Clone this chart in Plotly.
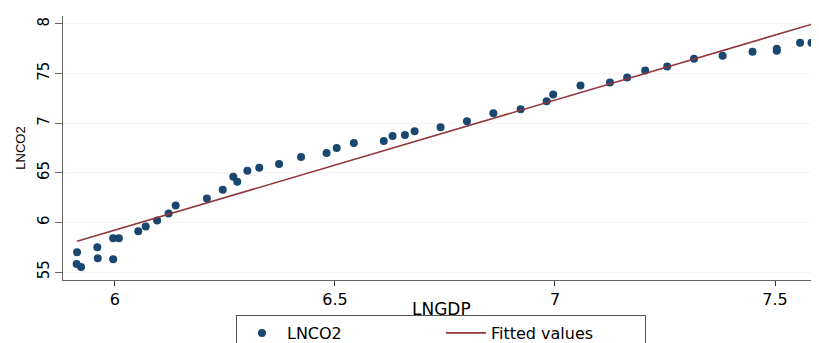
import plotly.graph_objects as go

lngdp = [5.914, 5.913, 5.923, 5.960, 5.961, 5.996, 6.009, 5.996, 6.053, 6.070,
         6.096, 6.122, 6.138, 6.209, 6.245, 6.269, 6.278, 6.301, 6.328, 6.373,
         6.423, 6.481, 6.504, 6.543, 6.611, 6.631, 6.659, 6.681, 6.740, 6.800,
         6.860, 6.922, 6.981, 6.996, 7.058, 7.125, 7.164, 7.205, 7.255, 7.316,
         7.381, 7.449, 7.504, 7.504, 7.557, 7.583]
lnco2 = [5.70, 5.58, 5.55, 5.75, 5.64, 5.84, 5.84, 5.63, 5.91, 5.96,
         6.02, 6.09, 6.17, 6.24, 6.33, 6.46, 6.41, 6.52, 6.55, 6.59,
         6.66, 6.70, 6.75, 6.80, 6.82, 6.87, 6.88, 6.92, 6.96, 7.02,
         7.10, 7.14, 7.22, 7.29, 7.38, 7.41, 7.46, 7.53, 7.57, 7.65,
         7.68, 7.72, 7.73, 7.75, 7.81, 7.81]

# Fitted values line (endpoints)
fit_x = [5.914, 7.586]
fit_y = [5.81, 8.00]

x_tickvals = [6, 6.5, 7, 7.5]
x_ticktext = ["6", "6.5", "7", "7.5"]
y_tickvals = [5.5, 6, 6.5, 7, 7.5, 8]
y_ticktext = ["55", "6", "65", "7", "75", "8"]

fig = go.Figure()
fig.add_trace(go.Scatter(
    x=lngdp, y=lnco2, mode="markers", name="LNCO2",
    marker=dict(color="#1a476f", size=8, line=dict(width=0)),
))
fig.add_trace(go.Scatter(
    x=fit_x, y=fit_y, mode="lines", name="Fitted values",
    line=dict(color="#90353b", width=1.6),
))

wide = "DejaVu Sans, Verdana, sans-serif"
narrow = "Liberation Sans, Arial, sans-serif"
fig.update_layout(
    width=811, height=335,
    margin=dict(l=55, r=0, t=8, b=63, autoexpand=False),
    paper_bgcolor="white", plot_bgcolor="white",
    font=dict(family=wide, color="#000000"),
    showlegend=True,
    legend=dict(
        orientation="h", x=0.2288, xanchor="left", y=-0.1326, yanchor="top",
        bordercolor="#555555", borderwidth=1, bgcolor="white",
        font=dict(size=16, family=wide, color="#000000"),
        itemwidth=40, entrywidth=149, entrywidthmode="pixels",
    ),
    xaxis=dict(
        range=[5.882, 7.6], tickvals=x_tickvals, ticktext=x_ticktext,
        showline=True, linecolor="#666666", linewidth=1.2,
        ticks="outside", ticklen=5, tickcolor="#333333",
        showgrid=False, zeroline=False, automargin=False,
        ticklabelstandoff=0,
        tickfont=dict(size=16, family=wide),
    ),
    yaxis=dict(
        range=[5.42, 8.08], tickvals=y_tickvals, ticktext=y_ticktext,
        showline=True, linecolor="#666666", linewidth=1.2,
        ticks="outside", ticklen=7, tickcolor="#666666",
        showgrid=True, gridcolor="#f4f4f4", gridwidth=1, zeroline=False,
        automargin=False,
        tickangle=-90, tickfont=dict(size=15, family=wide),
        title=dict(text="LNCO2", font=dict(size=13, family=narrow), standoff=6),
    ),
    annotations=[dict(
        text="LNGDP", xref="paper", yref="paper", x=0.5, y=-0.11,
        xanchor="center", yanchor="middle", showarrow=False,
        font=dict(size=17, family=wide, color="#000000"),
    )],
)

fig.write_html("out.html")
